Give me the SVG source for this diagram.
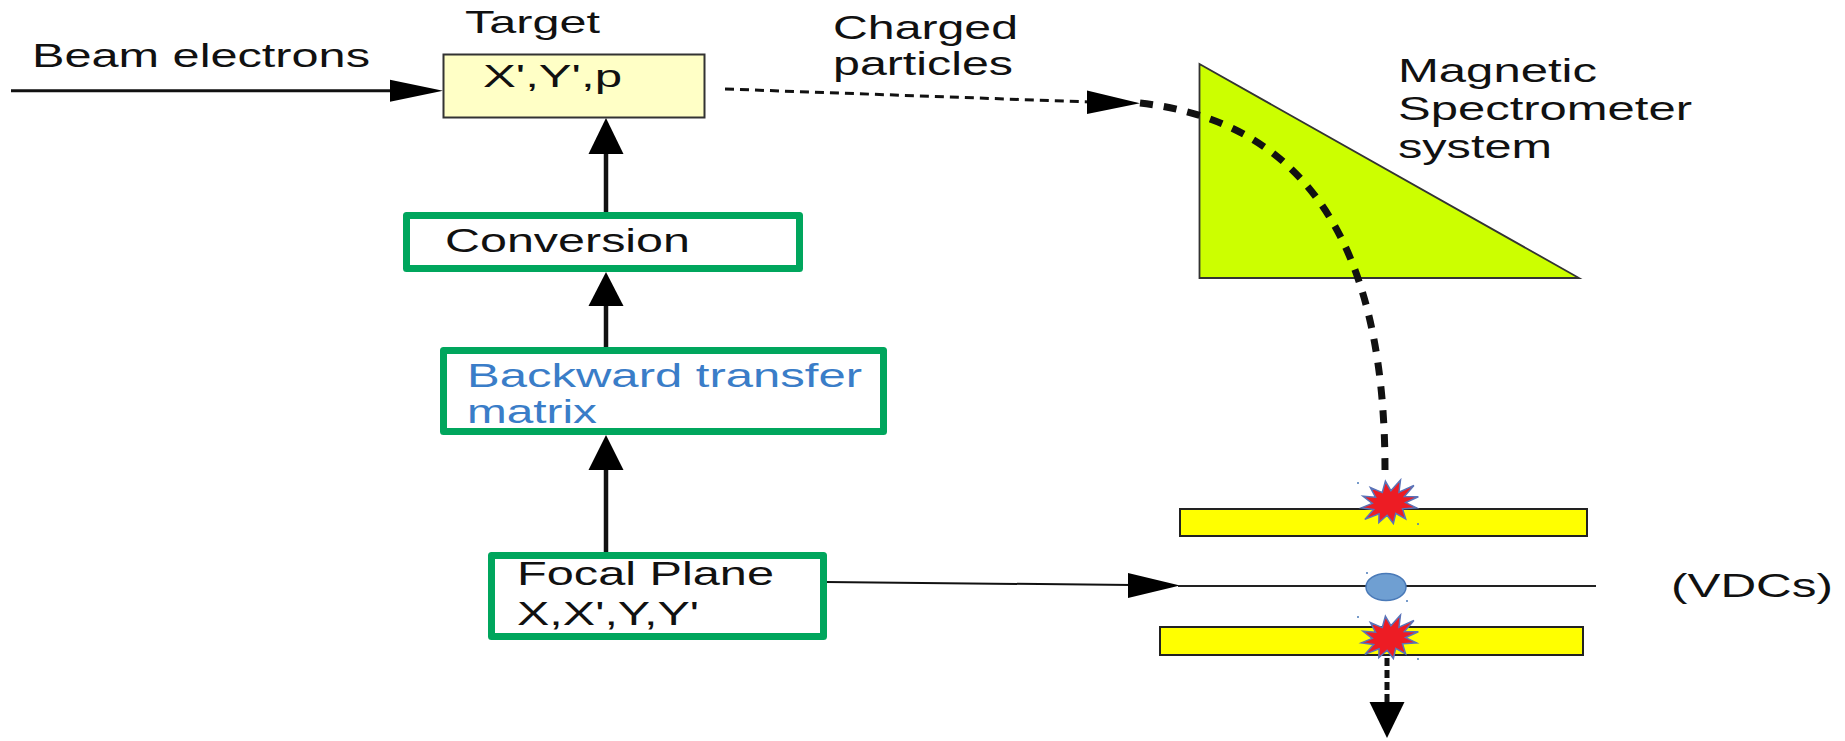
<svg xmlns="http://www.w3.org/2000/svg" xmlns:xlink="http://www.w3.org/1999/xlink" width="1845" height="741" viewBox="0 0 1845 741">
  <style>
    text { font-family: "Liberation Sans", Arial, sans-serif; fill: #111; }
    .lbl { font-size: 33px; }
    .blue { fill: #3a7dc8; }
    .stage { fill: #fff; stroke: #00a65d; stroke-width: 7; stroke-linejoin: round; }
    .wire { stroke: #111; fill: none; }
    .head { fill: #000; stroke: none; }
    .bar { fill: #ffff00; stroke: #222; stroke-width: 2; }
    .burst { fill: #ed1c24; stroke: #5a73b8; stroke-width: 1.5; }
    .speck { fill: #4a7ab8; }
  </style>
  <defs>
    <!-- irregular starburst used for detector hits -->
    <polygon id="burst" points="30,0 16.4,3.1 26,10.5 12,8.5 13,19 4.4,11.6 0,21 -4.4,11.6 -14,17 -12,8.5 -27,11 -16.4,3.1 -28,-1 -16.4,-3.1 -24,-12 -12,-8.5 -15,-19 -4.4,-11.6 1,-22 4.4,-11.6 16,-20 12,-8.5 28,-12 16.4,-3.1"/>
  </defs>

  <!-- magnetic spectrometer (drawn first so the trajectory sits on top) -->
  <g id="spectrometer">
    <polygon points="1199.5,64 1199.5,278 1579,278" fill="#ccff00" stroke="#333" stroke-width="1.8" stroke-linejoin="miter"/>
    <text x="1398" y="82" font-size="34" textLength="199" lengthAdjust="spacingAndGlyphs">Magnetic</text>
    <text x="1398" y="120" font-size="34" textLength="294" lengthAdjust="spacingAndGlyphs">Spectrometer</text>
    <text x="1398" y="158" font-size="34" textLength="154" lengthAdjust="spacingAndGlyphs">system</text>
  </g>

  <!-- connectors -->
  <g id="connectors">
    <!-- beam into target -->
    <line class="wire" x1="11" y1="90.7" x2="392" y2="90.7" stroke-width="3"/>
    <polygon class="head" points="443,90.7 390,79.7 390,101.7"/>
    <!-- conversion to target -->
    <line class="wire" x1="606" y1="212" x2="606" y2="150" stroke-width="4.5"/>
    <polygon class="head" points="606,118 588.5,154 623.5,154"/>
    <!-- backward transfer matrix to conversion -->
    <line class="wire" x1="606" y1="347" x2="606" y2="300" stroke-width="4.5"/>
    <polygon class="head" points="606,272 588.5,306 623.5,306"/>
    <!-- focal plane to backward transfer matrix -->
    <line class="wire" x1="606" y1="552" x2="606" y2="466" stroke-width="4.5"/>
    <polygon class="head" points="606,435 588.5,470 623.5,470"/>
    <!-- focal plane to VDC plane -->
    <line class="wire" x1="826" y1="582" x2="1132" y2="585" stroke-width="2"/>
    <polygon class="head" points="1180,585.5 1128,573 1128,598"/>
    <!-- charged particles leaving target -->
    <line class="wire" x1="725" y1="89" x2="1090" y2="102" stroke-width="3" stroke-dasharray="9 6"/>
    <polygon class="head" points="1140,103.3 1087,90.5 1087,114"/>
    <!-- trajectory through the spectrometer -->
    <path class="wire" d="M1140,103 C1270,118 1385,200 1385,470" stroke-width="7" stroke-dasharray="13 11"/>
    <!-- trajectory leaving the VDCs -->
    <line class="wire" x1="1387" y1="658" x2="1387" y2="703" stroke-width="5" stroke-dasharray="8 4"/>
    <polygon class="head" points="1387,738 1369.5,702 1404.5,702"/>
  </g>

  <!-- beam label -->
  <g id="beam">
    <text class="lbl" x="32" y="67" textLength="338" lengthAdjust="spacingAndGlyphs">Beam electrons</text>
  </g>

  <!-- target -->
  <g id="target">
    <text x="465" y="33" font-size="32" textLength="135" lengthAdjust="spacingAndGlyphs">Target</text>
    <rect x="443.5" y="54.5" width="261" height="63" fill="#ffffc6" stroke="#333" stroke-width="2"/>
    <text x="483" y="87" font-size="31" textLength="139" lengthAdjust="spacingAndGlyphs">X',Y',p</text>
  </g>

  <!-- conversion stage -->
  <g id="conversion">
    <rect class="stage" x="406.5" y="215.5" width="393" height="53"/>
    <text class="lbl" x="445" y="252" textLength="245" lengthAdjust="spacingAndGlyphs">Conversion</text>
  </g>

  <!-- backward transfer matrix stage -->
  <g id="backward-matrix">
    <rect class="stage" x="443.5" y="350.5" width="440" height="81"/>
    <text class="lbl blue" x="467" y="387" textLength="395" lengthAdjust="spacingAndGlyphs">Backward transfer</text>
    <text class="lbl blue" x="467" y="423" textLength="130" lengthAdjust="spacingAndGlyphs">matrix</text>
  </g>

  <!-- focal plane stage -->
  <g id="focal-plane">
    <rect class="stage" x="491.5" y="555.5" width="332" height="81"/>
    <text class="lbl" x="517" y="585" textLength="257" lengthAdjust="spacingAndGlyphs">Focal Plane</text>
    <text class="lbl" x="517" y="625" textLength="182" lengthAdjust="spacingAndGlyphs">X,X',Y,Y'</text>
  </g>

  <!-- charged particles label -->
  <g id="charged-particles">
    <text class="lbl" x="833" y="39" textLength="185" lengthAdjust="spacingAndGlyphs">Charged</text>
    <text class="lbl" x="833" y="75" textLength="180" lengthAdjust="spacingAndGlyphs">particles</text>
  </g>

  <!-- vertical drift chambers -->
  <g id="vdc">
    <rect class="bar" x="1180" y="509" width="407" height="27"/>
    <line x1="1178" y1="586" x2="1596" y2="586" stroke="#222" stroke-width="1.8"/>
    <ellipse cx="1386" cy="587" rx="20" ry="13.5" fill="#6f9fd2" stroke="#4a7ab8" stroke-width="1.5"/>
    <rect class="bar" x="1160" y="627" width="423" height="28"/>
    <use href="#burst" xlink:href="#burst" class="burst" transform="translate(1389,503) rotate(-12)"/>
    <use href="#burst" xlink:href="#burst" class="burst" transform="translate(1389,638) rotate(-12)"/>
    <circle class="speck" cx="1358" cy="483" r="1"/>
    <circle class="speck" cx="1418" cy="524" r="1"/>
    <circle class="speck" cx="1367" cy="573" r="1"/>
    <circle class="speck" cx="1407" cy="601" r="1"/>
    <circle class="speck" cx="1358" cy="617" r="1"/>
    <circle class="speck" cx="1418" cy="659" r="1"/>
    <text class="lbl" x="1671" y="597" textLength="162" lengthAdjust="spacingAndGlyphs">(VDCs)</text>
  </g>
</svg>
